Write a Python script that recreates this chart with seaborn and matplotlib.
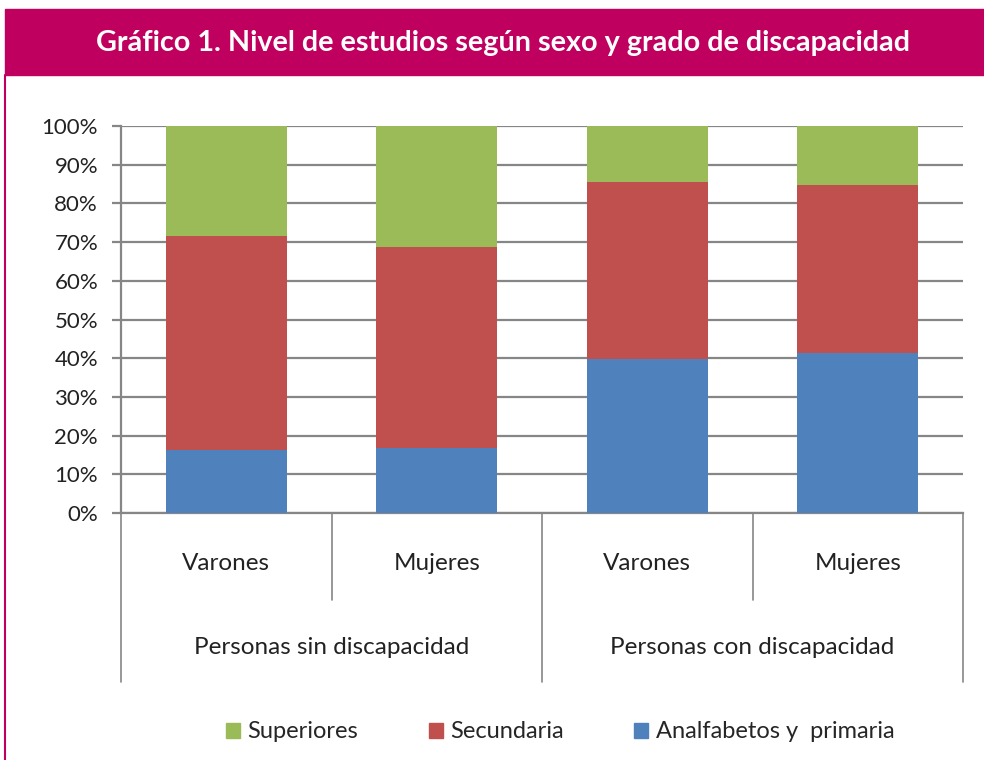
import matplotlib
matplotlib.use("Agg")
import matplotlib.pyplot as plt
import matplotlib.patches as mpatches
import matplotlib.transforms as mtransforms
import seaborn as sns
import pandas as pd
import numpy as np

# ---- data ----
groups = ["Personas sin discapacidad", "Personas sin discapacidad",
          "Personas con discapacidad", "Personas con discapacidad"]
sexes = ["Varones", "Mujeres", "Varones", "Mujeres"]
analfabetos_primaria = [16.3, 16.9, 39.7, 41.3]
secundaria = [55.4, 51.9, 45.8, 43.5]
superiores = [28.3, 31.2, 14.5, 15.2]
group_labels = ["Personas sin discapacidad", "Personas con discapacidad"]
series_names = ["Superiores", "Secundaria", "Analfabetos y  primaria"]
colors = {"Superiores": "#9BBB59", "Secundaria": "#C0504D",
          "Analfabetos y  primaria": "#4F81BD"}
title = "Gráfico 1. Nivel de estudios según sexo y grado de discapacidad"

sns.set_theme(style="white")
plt.rcParams["font.family"] = ["Lato", "DejaVu Sans"]

keys = [f"{g}|{s}" for g, s in zip(groups, sexes)]
df = pd.DataFrame({"key": keys,
                   "blue": analfabetos_primaria,
                   "red": np.array(analfabetos_primaria) + np.array(secundaria),
                   "green": np.array(analfabetos_primaria) + np.array(secundaria) + np.array(superiores)})

W, H = 984, 760
fig = plt.figure(figsize=(W / 100, H / 100), dpi=100)
fig.patch.set_facecolor("white")

# banner
fig.patches.append(mpatches.Rectangle((5 / W, 1 - 75 / H), 1 - 5 / W, 66 / H,
                                      transform=fig.transFigure, color="#C0005F", zorder=0))
fig.lines.append(plt.Line2D([5 / W, 5 / W], [0, 1 - 75 / H], transform=fig.transFigure,
                            color="#C0005F", lw=1.5))
fig.text(503 / W, 1 - 43 / H, title, ha="center", va="center", color="white",
         fontsize=20.7, fontweight="bold", family=["Lato", "DejaVu Sans"])

ax = fig.add_axes([121 / W, 1 - 513 / H, (963 - 121) / W, (513 - 126) / H])

grid_c = "#868686"
for col, name in [("green", "Superiores"), ("red", "Secundaria"), ("blue", "Analfabetos y  primaria")]:
    sns.barplot(data=df, x="key", y=col, order=keys, color=colors[name],
                saturation=1, width=0.575, ax=ax, zorder=3, linewidth=0)

ax.set_ylim(0, 100)
ax.set_xlim(-0.5, 3.5)
ax.set_yticks(np.arange(0, 101, 10))
ax.set_yticklabels([f"{v}%" for v in range(0, 101, 10)], fontsize=16, color="#222222")
ax.yaxis.grid(True, color=grid_c, lw=1.6, zorder=0)
ax.set_axisbelow(True)
ax.tick_params(axis="y", length=6.5, width=1.6, color=grid_c, pad=10, left=True)
ax.set_xticks([])
ax.set_xlabel("")
ax.set_ylabel("")
for s in ["top", "right"]:
    ax.spines[s].set_visible(False)
ax.spines["left"].set_color(grid_c)
ax.spines["left"].set_linewidth(1.6)
ax.spines["bottom"].set_color(grid_c)
ax.spines["bottom"].set_linewidth(1.6)

trans = mtransforms.blended_transform_factory(ax.transData, ax.transAxes)
ph = 513 - 126
for xv in [-0.5, 0.5, 1.5, 2.5, 3.5]:
    low = (513 - 682) / ph if xv in (-0.5, 1.5, 3.5) else (513 - 600) / ph
    ax.plot([xv, xv], [0, low], transform=trans, color=grid_c, lw=1.2, clip_on=False)

for i, s in enumerate(sexes):
    ax.text(i, (513 - 563) / ph, s, transform=trans, ha="center", va="center",
            fontsize=17.5, color="#222222")
for j, g in enumerate(group_labels):
    ax.text(0.5 + 2 * j, (513 - 647) / ph, g, transform=trans, ha="center", va="center",
            fontsize=17.5, color="#222222")

handles = [mpatches.Patch(color=colors[n], label=n) for n in series_names]
fig.legend(handles=handles, loc="center", bbox_to_anchor=(560 / W, 1 - 732 / H), ncol=3,
           frameon=False, fontsize=17, handlelength=0.6, handleheight=0.6,
           handletextpad=0.3, columnspacing=3.0)

fig.savefig("out.png", dpi=100, facecolor="white")
